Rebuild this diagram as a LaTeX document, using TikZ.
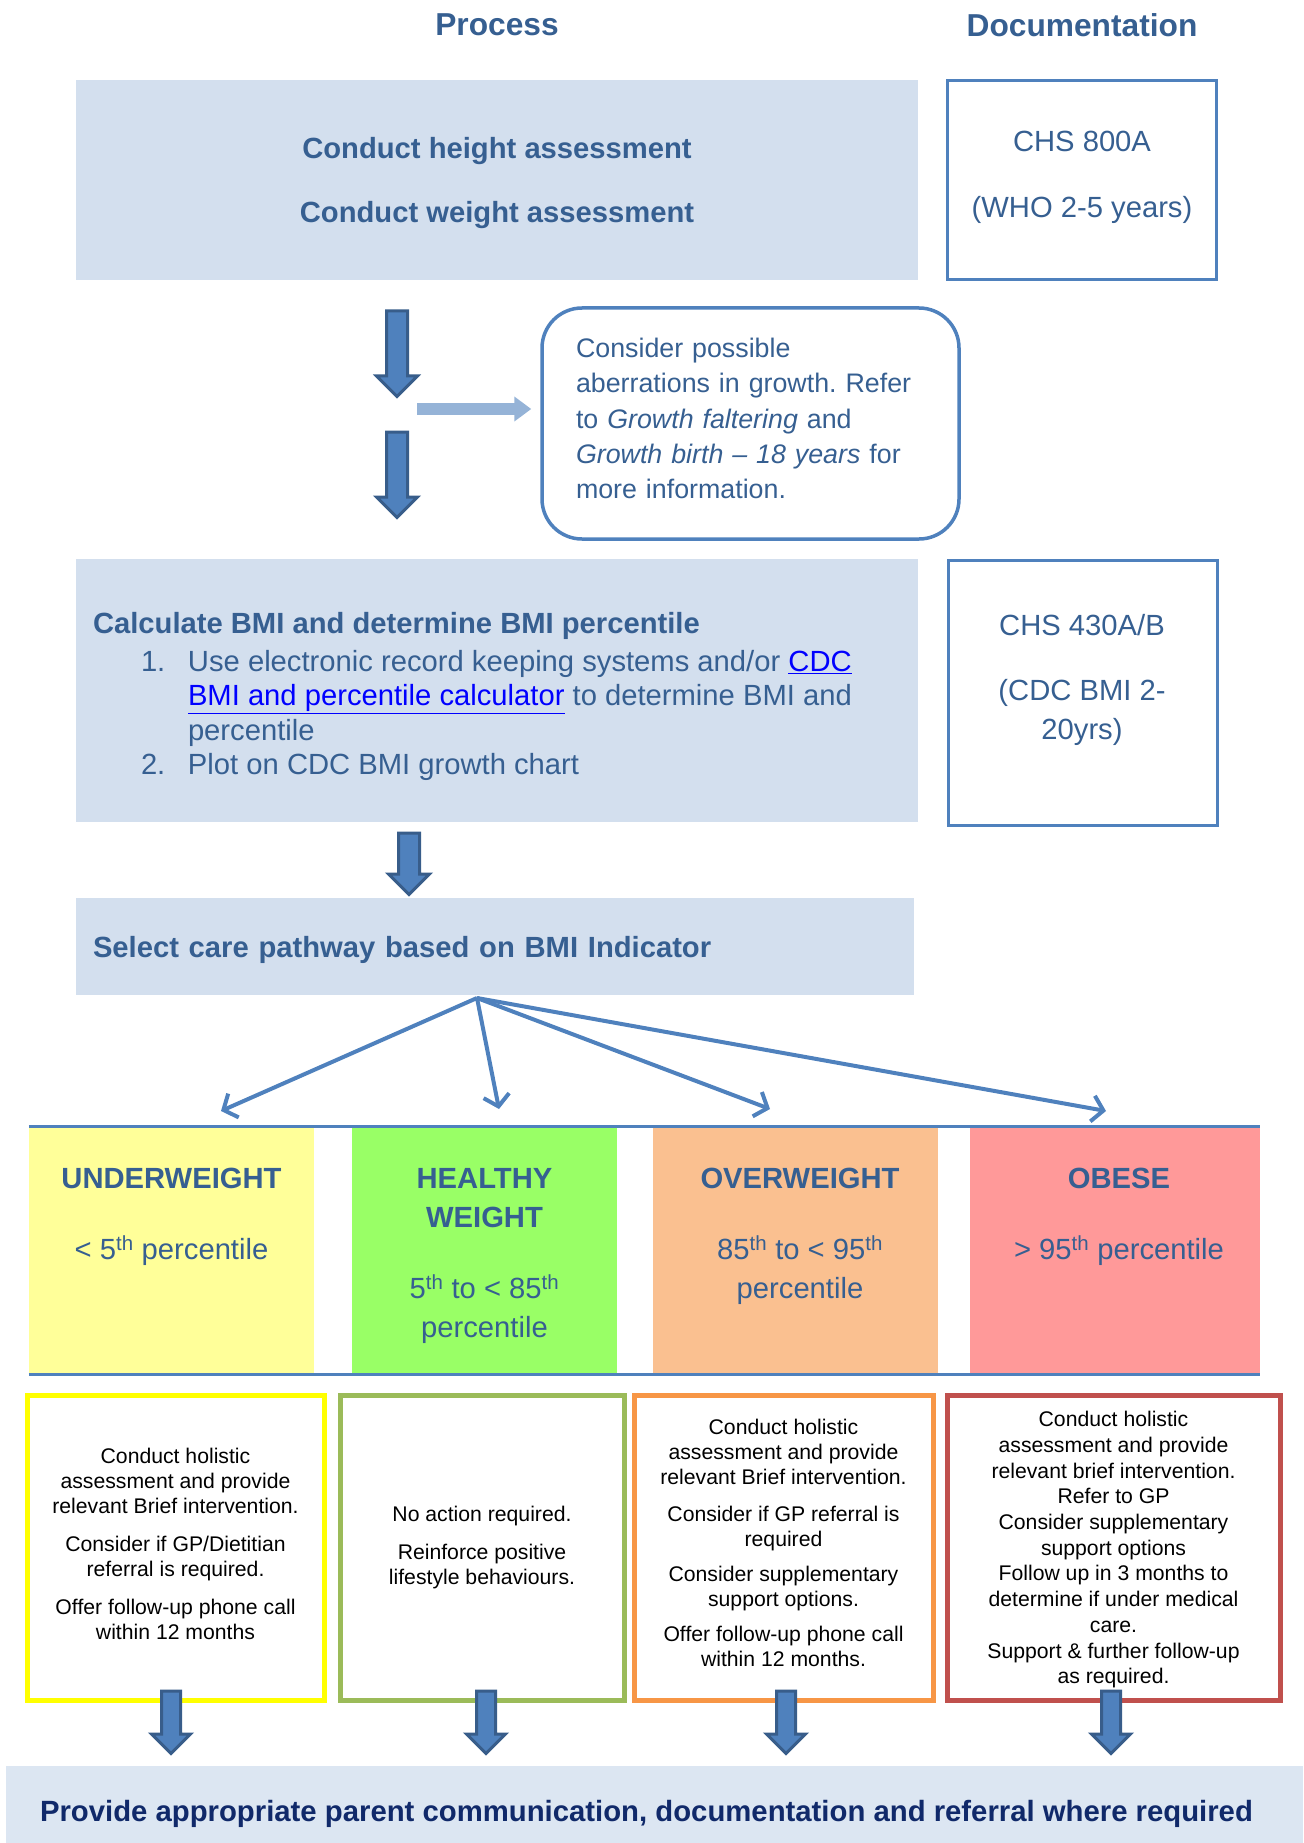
\documentclass[tikz,border=0pt]{standalone}
\usepackage{fontspec}
\setmainfont{Liberation Sans}
\usetikzlibrary{shapes.arrows}
\usetikzlibrary{arrows.meta}
\usetikzlibrary{positioning}
\frenchspacing

\definecolor{navy}{HTML}{365F91}
\definecolor{deepnavy}{HTML}{10296A}
\definecolor{accent}{HTML}{4F81BD}
\definecolor{accentdark}{HTML}{385D8A}
\definecolor{paleaccent}{HTML}{95B3D7}
\definecolor{paleblue}{HTML}{D3DFEE}
\definecolor{palerblue}{HTML}{DCE6F2}
\definecolor{linkblue}{HTML}{0000FF}
\definecolor{uwfill}{HTML}{FFFF99}
\definecolor{hwfill}{HTML}{99FF66}
\definecolor{owfill}{HTML}{FAC090}
\definecolor{obfill}{HTML}{FF9999}
\definecolor{uwline}{HTML}{FFFF00}
\definecolor{hwline}{HTML}{9BBB59}
\definecolor{owline}{HTML}{F79646}
\definecolor{obline}{HTML}{C0504D}

\newcommand{\weblink}[1]{\textcolor{linkblue}{\underline{#1}}}

\begin{document}
\begin{tikzpicture}[x=1pt,y=-1pt,inner sep=0pt,
  headtext/.style={font=\fontsize{31.7}{36}\selectfont\bfseries,text=navy},
  procbox/.style={fill=paleblue,minimum width=842pt},
  docbox/.style={draw=accent,line width=3pt,minimum width=269pt},
  doctext/.style={align=center,text=navy,font=\fontsize{29.2}{39}\selectfont},
  bodytext/.style={align=left,text=navy,font=\fontsize{29.2}{34.3}\selectfont},
  notebox/.style={draw=accent,line width=3.5pt,rounded corners=40pt,minimum width=417pt,minimum height=231pt},
  notetext/.style={text width=349pt,align=left,text=navy,font=\fontsize{26.8}{35.2}\selectfont},
  downarrow/.style={single arrow,rotate=-90,anchor=tail,fill=accent,draw=accentdark,line width=3pt,inner ysep=9pt,inner xsep=0pt,single arrow head extend=10pt,single arrow tip angle=90,minimum width=0pt},
  lightlink/.style={paleaccent,line width=12pt,-{Triangle[length=17pt,width=24pt]}},
  fanline/.style={accent,line width=4pt,-{Straight Barb[length=11pt,width=26pt]}},
  bandline/.style={accent,line width=3pt},
  catcell/.style={minimum width=#1,minimum height=245pt},
  cattext/.style={anchor=north,align=center,text=navy,font=\fontsize{29.2}{39}\selectfont},
  actbox/.style={draw=#1,fill=white,line width=5pt,minimum height=305pt,align=center,font=\fontsize{21.2}{25}\selectfont},
  finbox/.style={fill=palerblue,minimum width=1297pt,minimum height=77pt},
  fintext/.style={font=\fontsize{29.3}{34}\selectfont\bfseries,text=deepnavy}]
\useasboundingbox (0,0) rectangle (1303,1843);

\node[headtext] (hproc) at (497,25) {Process};
\node[headtext] (hdoc) at (1082,25) {Documentation};

\node[procbox,minimum height=200pt,align=center,text=navy,text depth=0pt,font=\fontsize{29.2}{34.3}\selectfont\bfseries] (proc) at (497,180) {Conduct height assessment\\[30pt]Conduct weight assessment};
\node[docbox,minimum height=199pt] (docA) [right=28pt of proc] {};
\node[doctext] (docAtxt) at (1082,177) {CHS 800A\\[27pt](WHO 2-5 years)};

\node[downarrow,minimum height=85.5pt] (a1) at (397,309.5) {};
\node[downarrow,minimum height=85.5pt] (a2) at (397,430.5) {};
\node[notebox] (note) at (750.5,423.5) {};
\node[notetext] (notetxt) at ([yshift=5pt]note.center) {Consider possible\\aberrations in growth. Refer\\to \textit{Growth faltering} and\\\textit{Growth birth -- 18 years} for\\more information.};
\coordinate (split) at (417,409);
\draw[lightlink,shorten >=9pt] (split) -- (split -| note.west);

\node[procbox,minimum height=263pt] (bmi) at (497,690.5) {};
\node[bodytext,anchor=north west] (bmitxt) at ([xshift=17pt,yshift=-53pt]bmi.north west) {\textbf{Calculate BMI and determine BMI percentile}\\[4pt]
\hspace*{48pt}\makebox[47pt][l]{1.}Use electronic record keeping systems and/or \weblink{CDC}\\
\hspace*{95pt}\weblink{BMI and percentile calculator} to determine BMI and\\
\hspace*{95pt}percentile\\
\hspace*{48pt}\makebox[47pt][l]{2.}Plot on CDC BMI growth chart};
\node[docbox,minimum height=265pt] (docB) at (1082.5,692.5) {};
\node[doctext] (docBtxt) at (1082,680) {CHS 430A/B\\[26pt](CDC BMI 2-\\20yrs)};

\node[downarrow,minimum height=61.5pt] (a3) at (409,831.5) {};
\node[procbox,minimum width=838pt,minimum height=97pt,text width=804pt,align=left,text=navy,text depth=0pt,font=\fontsize{29.2}{34.3}\selectfont\bfseries] (sel) at (495,946.5) {Select care pathway based on BMI Indicator};

\node[catcell=285pt,fill=uwfill] (uw) at (171.5,1250.5) {};
\node[catcell=265pt,fill=hwfill] (hw) at (484.5,1250.5) {};
\node[catcell=285pt,fill=owfill] (ow) at (795.5,1250.5) {};
\node[catcell=290pt,fill=obfill] (ob) at (1115,1250.5) {};
\draw[bandline] ([yshift=1.5pt]uw.north west) -- ([yshift=1.5pt]ob.north east);
\draw[bandline] ([yshift=-1.5pt]uw.south west) -- ([yshift=-1.5pt]ob.south east);
\node[cattext] (uwtxt) at ([yshift=-40pt]uw.north) {\textbf{UNDERWEIGHT}\\[32pt]< 5\textsuperscript{th} percentile};
\node[cattext] (hwtxt) at ([yshift=-40pt]hw.north) {\textbf{HEALTHY}\\\textbf{WEIGHT}\\[32pt]5\textsuperscript{th} to < 85\textsuperscript{th}\\percentile};
\node[cattext] (owtxt) at ([xshift=4.5pt,yshift=-40pt]ow.north) {\textbf{OVERWEIGHT}\\[32pt]85\textsuperscript{th} to < 95\textsuperscript{th}\\percentile};
\node[cattext] (obtxt) at ([xshift=4pt,yshift=-40pt]ob.north) {\textbf{OBESE}\\[32pt]> 95\textsuperscript{th} percentile};

\coordinate (fan) at (477,998);
\coordinate (uwtip) at (221,1111);
\coordinate (hwtip) at (499,1109);
\coordinate (owtip) at (770,1109);
\coordinate (obtip) at (1106,1111);
\path[fanline] (fan) edge (uwtip);
\path[fanline] (fan) edge (hwtip);
\path[fanline] (fan) edge (owtip);
\path[fanline] (fan) edge (obtip);

\node[actbox=uwline,minimum width=297pt,text depth=8pt] (uwact) at (175.5,1547.5) {Conduct holistic\\assessment and provide\\relevant Brief intervention.\\[13pt]Consider if GP/Dietitian\\referral is required.\\[13pt]Offer follow-up phone call\\within 12 months};
\node[actbox=hwline,minimum width=284pt] (hwact) at (482,1547.5) {No action required.\\[13pt]Reinforce positive\\lifestyle behaviours.};
\node[actbox=owline,minimum width=299pt,text depth=9pt] (owact) at (783.5,1547.5) {Conduct holistic\\assessment and provide\\relevant Brief intervention.\\[12pt]Consider if GP referral is\\required\\[10pt]Consider supplementary\\support options.\\[10pt]Offer follow-up phone call\\within 12 months.};
\node[actbox=obline,minimum width=333pt,text depth=0pt,font=\fontsize{21.2}{25.7}\selectfont] (obact) at (1113.5,1547.5) {Conduct holistic\\assessment and provide\\relevant brief intervention.\\Refer to GP\\Consider supplementary\\support options\\Follow up in 3 months to\\determine if under medical\\care.\\Support \& further follow-up\\as required.};

\node[downarrow,minimum height=62.5pt,inner ysep=8pt] (b1) at (171,1689.5) {};
\node[downarrow,minimum height=62.5pt,inner ysep=8pt] (b2) at (486,1689.5) {};
\node[downarrow,minimum height=62.5pt,inner ysep=8pt] (b3) at (786,1689.5) {};
\node[downarrow,minimum height=62.5pt,inner ysep=8pt] (b4) at (1111,1689.5) {};

\node[finbox] (fin) at (654.5,1804.5) {};
\node[fintext,anchor=west] (fintxt) at ([xshift=34pt,yshift=-9pt]fin.west) {Provide appropriate parent communication, documentation and referral where required};
\end{tikzpicture}
\end{document}
